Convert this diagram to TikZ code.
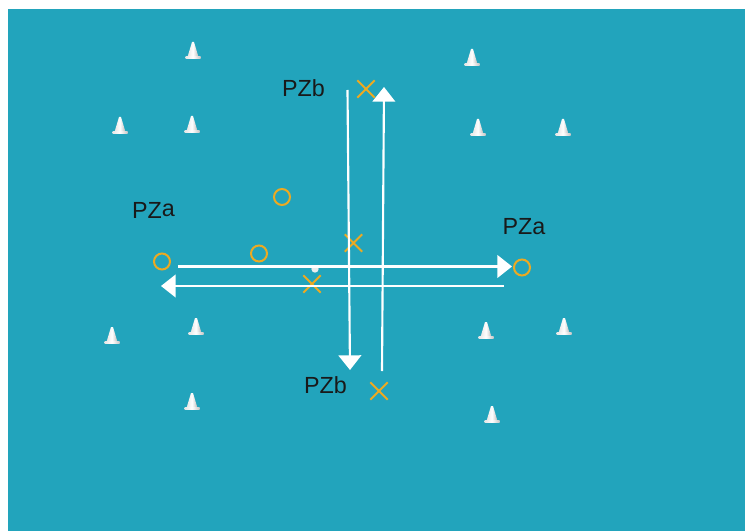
\documentclass[tikz,border=0pt]{standalone}
\usepackage{fontspec}
\setmainfont{Liberation Sans}
\usetikzlibrary{arrows.meta,shapes.misc}
\definecolor{teal1}{RGB}{34,164,188}
\definecolor{orng}{RGB}{236,170,34}
\tikzset{
  mark circ/.style={circle,draw=orng,line width=1.5pt,minimum size=12pt,inner sep=0pt},
  mark x/.style={cross out,draw=orng,line width=1.5pt,minimum size=11.5pt,inner sep=0pt},
  lbl/.style={font=\fontsize{17.5}{19}\selectfont,text=black!90,inner sep=0pt},
  runline/.style={draw=white,line width=1.6pt,-{Triangle[length=11pt,width=17pt]}},
  ball/.style={circle,fill=gray!15,minimum size=5.5pt,inner sep=0pt},
  cone/.pic={
    \shade[left color=white!80!gray,right color=gray!55,middle color=white]
      (-5.5,0) -- (-1,-15) -- (1,-15) -- (5.5,0) -- cycle;
    \shade[left color=white!80!gray,right color=gray!45,middle color=white]
      (-7.5,-0.5) rectangle (7.5,1.8);
  }
}
\begin{document}
\begin{tikzpicture}[x=0.75pt,y=-0.75pt]
\useasboundingbox (0,0) rectangle (745,531);
\fill[teal1] (8,9) rectangle (745,531);
% cones
\foreach \px/\py in {193/57,120/132,192/131,472/64,478/134,563/134,112/342,196/333,486/337,564/333,192/408,492/421}
  \pic at (\px,\py) {cone};
% markers
\node[mark circ] (c1) at (282,197) {};
\node[mark circ] (c2) at (259,253.5) {};
\node[mark circ] (c3) at (162,261.5) {};
\node[mark circ] (c4) at (522,267.5) {};
\node[mark x] (x1) at (366,89) {};
\node[mark x] (x2) at (353.5,243) {};
\node[mark x] (x3) at (312,284) {};
\node[mark x] (x4) at (379,391) {};
\node[ball] (ball) at (315,269) {};
% labels
\node[lbl] (pzb1) at (303.5,88) {PZb};
\node[lbl] (pzb2) at (325.5,385) {PZb};
\node[lbl] (pza1) at (524,227) {PZa};
\node[lbl] (pza2) at (153.5,210) {PZ\raisebox{1.5pt}{a}};
% run lines
\coordinate (h1s) at (178,266.5);
\coordinate (h1e) at (512,266.5);
\coordinate (h2s) at (504,286);
\coordinate (h2e) at (161,286);
\coordinate (v1s) at (347.5,90);
\coordinate (v1e) at (350,370);
\coordinate (v2s) at (382,371);
\coordinate (v2e) at (384,87);
\draw[runline] (h1s) -- (h1e);
\draw[runline] (h2s) -- (h2e);
\draw[runline] (v1s) -- (v1e);
\draw[runline] (v2s) -- (v2e);
\end{tikzpicture}
\end{document}
